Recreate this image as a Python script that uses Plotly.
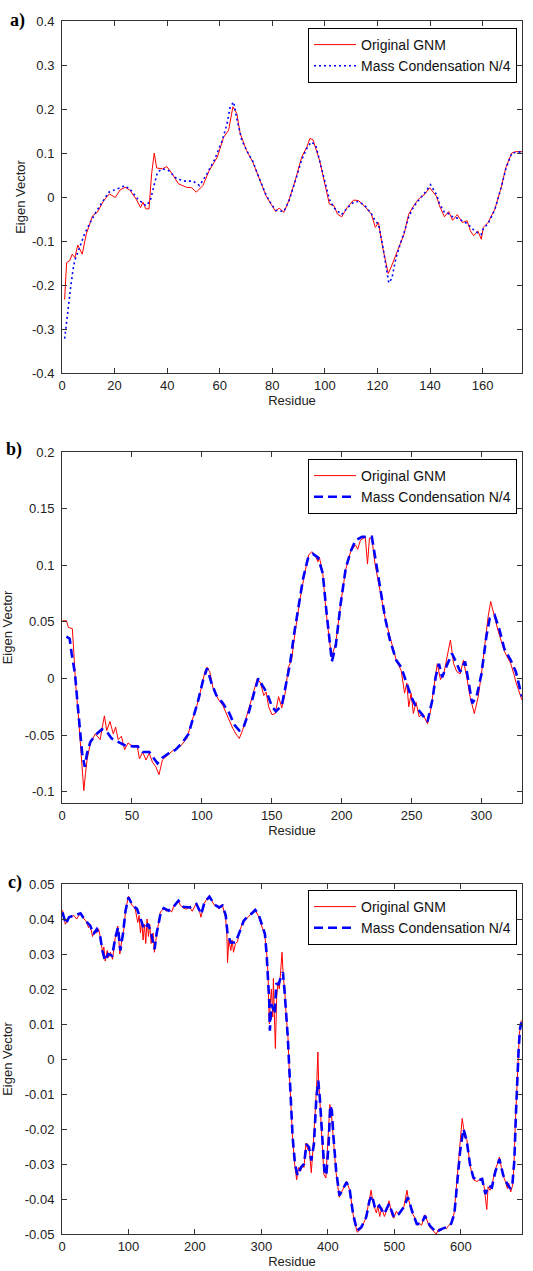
import plotly.graph_objects as go

# ---------------- Panel a ----------------
a_res_gnm = [1, 1.75, 2.9, 3.9, 4.9, 6.0, 7.7, 9.2, 11.6, 13.4, 15.9, 18.0, 20.3, 22.1, 24.0,
             25.8, 28.2, 29.9, 30.8, 31.9, 33.1, 34.1, 35.1, 36.0, 38.2, 39.9, 41.9, 44.3, 47.4,
             49.3, 51.1, 53.6, 56.0, 59.1, 61.5, 63.4, 65.0, 66.5, 67.8, 70.2, 72.6, 75.2, 77.6,
             79.5, 81.3, 82.6, 84.4, 86.3, 88.7, 91.2, 93.1, 94.3, 95.5, 98.0, 99.8, 101.7, 103.5,
             104.8, 106.4, 108.5, 110.9, 112.8, 115.3, 117.7, 119.2, 120.4, 122.0, 124.1, 125.1,
             127.0, 128.5, 130.1, 131.9, 133.8, 135.6, 138.1, 139.9, 142.5, 143.6, 145.5, 147.1,
             148.6, 150.4, 152.3, 154.1, 155.4, 156.6, 158.2, 159.5, 160.3, 162.1, 164.7, 167.1,
             168.9, 171.1, 172.5, 175]
a_vec_gnm = [-0.233, -0.149, -0.145, -0.130, -0.138, -0.109, -0.130, -0.085, -0.043, -0.035,
             -0.008, 0.007, -0.001, 0.016, 0.022, 0.016, -0.005, -0.024, -0.012, -0.027, -0.027,
             0.053, 0.100, 0.066, 0.064, 0.069, 0.053, 0.030, 0.022, 0.021, 0.011, 0.026, 0.060,
             0.091, 0.136, 0.152, 0.205, 0.190, 0.144, 0.106, 0.079, 0.037, 0.003, -0.016, -0.033,
             -0.025, -0.035, -0.008, 0.037, 0.091, 0.113, 0.133, 0.130, 0.083, 0.037, -0.016,
             -0.020, -0.039, -0.045, -0.024, -0.007, -0.008, -0.022, -0.039, -0.069, -0.058,
             -0.115, -0.174, -0.161, -0.130, -0.109, -0.085, -0.039, -0.020, -0.005, 0.007, 0.021,
             0.001, -0.020, -0.045, -0.033, -0.053, -0.040, -0.058, -0.054, -0.077, -0.088, -0.077,
             -0.096, -0.069, -0.058, -0.027, 0.022, 0.068, 0.100, 0.103, 0.103]

a_res_mc = [1, 1.5, 2.4, 3.3, 4.2, 4.8, 6.7, 8.5, 10.4, 12.8, 15.3, 17.8, 20.9, 24.0, 26.4, 28.9,
            32.0, 33.6, 35.0, 36.3, 38.1, 40.6, 43.7, 46.8, 49.9, 52.3, 54.8, 57.9, 61.0, 62.8,
            64.0, 65.3, 66.5, 68.4, 70.2, 72.6, 75.2, 77.6, 79.5, 81.3, 84.4, 86.3, 88.7, 91.2,
            93.1, 94.8, 96.5, 98.0, 99.8, 101.7, 103.5, 106.4, 108.5, 110.9, 112.8, 115.3, 117.7,
            119.2, 120.4, 122.0, 124.3, 125.5, 127.0, 128.5, 130.1, 131.9, 133.8, 135.6, 138.1,
            140.2, 142.5, 143.6, 145.5, 147.1, 148.6, 150.4, 152.3, 154.1, 156.6, 158.2, 159.5,
            160.3, 162.1, 164.7, 167.1, 168.9, 171.1, 175]
a_vec_mc = [-0.322, -0.295, -0.250, -0.205, -0.165, -0.145, -0.115, -0.085, -0.062, -0.035,
            -0.012, 0.011, 0.018, 0.026, 0.014, -0.005, -0.020, -0.008, 0.026, 0.056, 0.064,
            0.060, 0.041, 0.036, 0.036, 0.026, 0.049, 0.083, 0.129, 0.167, 0.205, 0.216, 0.178,
            0.129, 0.106, 0.081, 0.040, 0.005, -0.015, -0.030, -0.033, -0.010, 0.035, 0.085,
            0.110, 0.125, 0.118, 0.085, 0.040, -0.005, -0.025, -0.040, -0.025, -0.012, -0.010,
            -0.020, -0.038, -0.055, -0.062, -0.110, -0.195, -0.185, -0.140, -0.110, -0.082,
            -0.045, -0.022, -0.008, 0.010, 0.028, 0.005, -0.015, -0.035, -0.038, -0.045, -0.048,
            -0.055, -0.060, -0.075, -0.082, -0.085, -0.072, -0.060, -0.028, 0.022, 0.065, 0.100,
            0.103]

# ---------------- Panel b ----------------
b_res_gnm = [0.4, 3.2, 4.6, 7.4, 8.5, 9.7, 11.6, 13.2, 14.4, 15.6, 16.8, 17.9, 20.3, 23.8, 27.3,
             29.0, 30.3, 32.0, 34.3, 36.7, 38.3, 40.2, 42.5, 44.8, 47.2, 50.7, 53.7, 55.4, 57.7,
             60.1, 62.4, 64.7, 67.1, 69.4, 71.8, 75.3, 80.0, 84.6, 89.3, 92.8, 96.3, 99.9, 102.2,
             103.8, 105.7, 108.1, 111.6, 115.1, 117.4, 119.8, 122.1, 124.4, 126.8, 129.1, 132.6,
             136.1, 139.7, 142.0, 144.3, 146.0, 147.8, 150.2, 152.5, 154.9, 157.2, 159.6, 161.9,
             164.2, 166.6, 170.1, 173.6, 176.4, 178.7, 181.1, 183.0, 184.1, 186.5, 188.8, 191.2,
             192.8, 195.8, 199.3, 202.9, 206.4, 209.9, 211.5, 213.4, 216.9, 218.5, 219.9, 221.6,
             223.9, 227.4, 231.0, 234.5, 239.1, 242.6, 245.0, 246.6, 248.0, 249.7, 251.3, 253.2,
             255.5, 257.9, 261.4, 263.7, 266.1, 268.4, 270.7, 273.1, 275.4, 277.8, 280.1, 282.4,
             284.8, 287.1, 289.5, 291.8, 294.9, 297.7, 300.0, 302.3, 304.7, 306.6, 308.2, 311.7,
             316.4, 321.0, 323.4, 324.6, 328.9]
b_vec_gnm = [0.051, 0.051, 0.045, 0.044, 0.022, -0.004, -0.031, -0.060, -0.072, -0.099, -0.084,
             -0.072, -0.057, -0.049, -0.054, -0.040, -0.033, -0.046, -0.038, -0.049, -0.043,
             -0.054, -0.051, -0.063, -0.057, -0.060, -0.059, -0.071, -0.065, -0.072, -0.066,
             -0.074, -0.078, -0.085, -0.072, -0.068, -0.063, -0.060, -0.053, -0.038, -0.025,
             -0.007, 0.006, 0.010, 0.006, -0.009, -0.018, -0.024, -0.031, -0.037, -0.044, -0.049,
             -0.053, -0.046, -0.032, -0.016, 0.000, -0.004, -0.015, -0.012, -0.025, -0.032,
             -0.031, -0.016, -0.026, -0.013, 0.010, 0.016, 0.040, 0.069, 0.093, 0.109, 0.112,
             0.109, 0.103, 0.107, 0.093, 0.060, 0.034, 0.019, 0.031, 0.066, 0.096, 0.112, 0.118,
             0.114, 0.122, 0.125, 0.101, 0.124, 0.124, 0.101, 0.078, 0.054, 0.037, 0.016, 0.007,
             -0.013, -0.004, -0.025, -0.013, -0.031, -0.021, -0.034, -0.031, -0.040, -0.028,
             -0.007, 0.013, -0.001, 0.004, 0.019, 0.034, 0.013, 0.006, 0.004, 0.016, 0.001,
             -0.016, -0.031, -0.016, 0.004, 0.028, 0.054, 0.068, 0.060, 0.043, 0.024, 0.013,
             0.003, -0.003, -0.019]

b_res_mc = [3.2, 5.5, 6.9, 9.3, 10.9, 12.5, 14.4, 16.3, 17.9, 20.3, 23.8, 28.5, 32.0, 35.5, 40.2,
            44.8, 50.7, 54.2, 57.7, 62.4, 65.9, 68.3, 71.8, 76.5, 81.2, 85.8, 90.5, 94.0, 97.5,
            101.0, 103.8, 106.9, 110.4, 115.1, 119.8, 123.3, 126.8, 129.6, 133.8, 137.3, 140.4,
            143.2, 146.7, 150.2, 153.0, 157.2, 159.6, 163.1, 166.1, 168.9, 172.4, 175.9, 179.4,
            183.0, 186.5, 188.8, 191.2, 193.0, 195.8, 199.3, 202.9, 206.4, 209.9, 214.6, 221.6,
            223.9, 227.4, 231.0, 234.5, 239.1, 242.6, 246.2, 249.7, 253.2, 256.7, 261.4, 264.9,
            267.2, 269.6, 271.9, 275.4, 278.9, 282.4, 284.8, 288.3, 290.6, 293.4, 296.5, 300.0,
            303.5, 305.9, 309.4, 312.9, 316.4, 321.0, 324.6, 328.9]
b_vec_mc = [0.037, 0.035, 0.022, 0.004, -0.019, -0.043, -0.066, -0.078, -0.066, -0.056, -0.050,
            -0.045, -0.047, -0.053, -0.056, -0.059, -0.060, -0.060, -0.065, -0.065, -0.071,
            -0.075, -0.070, -0.066, -0.063, -0.057, -0.049, -0.035, -0.019, -0.001, 0.009,
            -0.004, -0.015, -0.022, -0.031, -0.041, -0.046, -0.044, -0.029, -0.013, 0.000,
            -0.006, -0.013, -0.025, -0.029, -0.024, -0.010, 0.013, 0.040, 0.063, 0.088, 0.106,
            0.110, 0.107, 0.093, 0.063, 0.034, 0.015, 0.029, 0.066, 0.097, 0.112, 0.122, 0.125,
            0.125, 0.107, 0.081, 0.054, 0.034, 0.016, 0.010, -0.004, -0.016, -0.025, -0.031,
            -0.038, -0.019, 0.001, 0.013, 0.001, 0.012, 0.022, 0.013, 0.006, 0.015, -0.001,
            -0.022, -0.016, 0.004, 0.037, 0.053, 0.056, 0.043, 0.026, 0.016, 0.006, -0.016]

# ---------------- Panel c ----------------
c_res_gnm = [0.8, 5, 8, 11, 18, 22, 28, 33, 36, 40, 42, 46, 48, 52, 55, 58, 61, 63, 65, 68, 70,
             73, 76, 80, 84, 87, 90, 93, 96, 100, 105, 110, 114, 116, 118, 120, 122, 124, 126,
             128, 130, 132, 134, 137, 139, 142, 148, 153, 157, 160, 165, 168, 175, 178, 182, 187,
             192, 196, 202, 206, 209, 214, 221, 226, 229, 233, 236, 241, 246, 248, 249, 251, 254,
             256, 258, 261, 264, 267, 273, 280, 285, 290, 295, 300, 305, 308, 310, 311, 312, 313,
             315, 317, 318, 320, 321, 323, 325, 327, 329, 331, 333, 335, 337, 340, 342, 344.6,
             347, 350, 353, 356, 359, 362, 364, 367, 370, 372, 375, 378, 381, 383, 385, 386, 388,
             391, 394, 397, 400, 403, 405, 408, 412, 417, 422, 428, 433, 438, 444, 450, 457, 462,
             465, 467, 469, 471, 473, 475, 478, 481, 485, 489, 492, 496, 499, 503, 507, 511, 514,
             517, 519, 521, 524, 527, 531, 534, 538, 541, 546, 550, 553, 558, 563, 567, 571, 575,
             578, 582, 585, 590, 594, 599, 602, 604, 606, 609, 614, 619, 624, 628, 632, 635, 637,
             639, 641, 644, 647, 651, 655, 658, 661, 664, 667, 670, 672, 675, 678, 680, 682, 684,
             686, 688, 690, 691]
c_vec_gnm = [0.0425, 0.0385, 0.0395, 0.0405, 0.0410, 0.0400, 0.0418, 0.0400, 0.0395, 0.0375,
             0.0385, 0.0350, 0.0365, 0.0360, 0.0372, 0.0345, 0.0305, 0.0320, 0.0280, 0.0310,
             0.0290, 0.0305, 0.0285, 0.0345, 0.0380, 0.0300, 0.0340, 0.0370, 0.0430, 0.0465,
             0.0440, 0.0430, 0.0390, 0.0410, 0.0360, 0.0395, 0.0340, 0.0385, 0.0330, 0.0400,
             0.0350, 0.0385, 0.0330, 0.0360, 0.0305, 0.0350, 0.0420, 0.0430, 0.0422, 0.0428,
             0.0420, 0.0436, 0.0452, 0.0440, 0.0432, 0.0428, 0.0434, 0.0422, 0.0445, 0.0430,
             0.0405, 0.0445, 0.0466, 0.0450, 0.0440, 0.0435, 0.0430, 0.0442, 0.0405, 0.0360,
             0.0275, 0.0340, 0.0310, 0.0340, 0.0305, 0.0330, 0.0335, 0.0365, 0.0395, 0.0405,
             0.0418, 0.0428, 0.0410, 0.0385, 0.0355, 0.0300, 0.0240, 0.0160, 0.0100, 0.0150,
             0.0200, 0.0120, 0.0230, 0.0090, 0.0030, 0.0180, 0.0220, 0.0200, 0.0260, 0.0305,
             0.0230, 0.0200, 0.0130, 0.0060, -0.0040, -0.0150, -0.0230, -0.0300, -0.0345,
             -0.0310, -0.0320, -0.0300, -0.0310, -0.0240, -0.0260, -0.0255, -0.0325, -0.0245,
             -0.0150, -0.0080, 0.0020, -0.0060, -0.0120, -0.0210, -0.0330, -0.0340, -0.0250,
             -0.0130, -0.0150, -0.0230, -0.0320, -0.0395, -0.0375, -0.0350, -0.0375, -0.0445,
             -0.0495, -0.0485, -0.0455, -0.0400, -0.0375, -0.0400, -0.0420, -0.0430, -0.0440,
             -0.0420, -0.0450, -0.0425, -0.0450, -0.0430, -0.0405, -0.0445, -0.0455, -0.0435,
             -0.0445, -0.0430, -0.0425, -0.0400, -0.0375, -0.0400, -0.0420, -0.0440, -0.0455,
             -0.0475, -0.0470, -0.0475, -0.0445, -0.0465, -0.0480, -0.0490, -0.0500, -0.0485,
             -0.0490, -0.0480, -0.0485, -0.0475, -0.0470, -0.0440, -0.0355, -0.0255, -0.0170,
             -0.0195, -0.0225, -0.0230, -0.0305, -0.0345, -0.0350, -0.0345, -0.0340, -0.0365,
             -0.0395, -0.0430, -0.0365, -0.0375, -0.0360, -0.0320, -0.0300, -0.0280, -0.0310,
             -0.0335, -0.0350, -0.0370, -0.0355, -0.0380, -0.0360, -0.0300, -0.0180, -0.0080,
             0.0000, 0.0070, 0.0100, 0.0110]

c_res_mc = [0.8, 5.7, 10.6, 18.0, 27.8, 35.2, 42.5, 47.4, 52.4, 57.3, 60.7, 64.7, 69.5, 75.4,
            80.4, 84.3, 87.7, 91.7, 95.6, 100.0, 106.4, 112.8, 118.7, 123.6, 129.5, 134.4, 139.3,
            142.2, 148.1, 153.0, 160.4, 167.8, 175.1, 182.5, 192.3, 202.2, 209.5, 214.4, 221.8,
            229.2, 236.5, 241.5, 246.4, 248.8, 253.7, 261.1, 267.0, 273.4, 280.7, 285.6, 290.6,
            295.5, 300.4, 305.3, 307.8, 310.2, 311.7, 312.7, 315.1, 317.6, 320.0, 322.5, 325.9,
            329.9, 332.3, 334.8, 337.2, 339.7, 342.1, 344.6, 347.0, 350.5, 354.4, 359.3, 364.2,
            367.7, 371.6, 375.0, 379.0, 382.4, 385.4, 387.8, 391.3, 394.7, 397.6, 401.1, 403.5,
            406.0, 408.4, 412.4, 417.3, 422.2, 428.1, 433.0, 437.9, 443.8, 450.2, 457.6, 462.5,
            466.4, 471.3, 477.2, 484.6, 492.0, 499.3, 506.7, 514.0, 520.4, 526.3, 533.7, 541.0,
            546.0, 553.3, 563.1, 570.5, 577.9, 585.3, 590.2, 594.1, 599.0, 603.9, 608.8, 613.7,
            618.7, 624.6, 632.0, 636.9, 641.8, 646.7, 651.6, 658.0, 663.9, 669.8, 674.7, 677.6,
            680.5, 683.0, 685.0, 687.0, 689.0, 691.0]
c_vec_mc = [0.0419, 0.0386, 0.0405, 0.0410, 0.0416, 0.0395, 0.0381, 0.0357, 0.0371, 0.0352,
            0.0310, 0.0281, 0.0300, 0.0295, 0.0348, 0.0376, 0.0310, 0.0357, 0.0424, 0.0462,
            0.0438, 0.0429, 0.0395, 0.0371, 0.0386, 0.0357, 0.0314, 0.0357, 0.0414, 0.0431,
            0.0424, 0.0435, 0.0452, 0.0435, 0.0433, 0.0443, 0.0414, 0.0448, 0.0464, 0.0441,
            0.0433, 0.0438, 0.0410, 0.0362, 0.0333, 0.0333, 0.0362, 0.0395, 0.0410, 0.0416,
            0.0426, 0.0414, 0.0386, 0.0357, 0.0300, 0.0233, 0.0167, 0.0081, 0.0157, 0.0143,
            0.0129, 0.0214, 0.0214, 0.0238, 0.0248, 0.0195, 0.0138, 0.0062, -0.0033, -0.0148,
            -0.0224, -0.0300, -0.0333, -0.0310, -0.0300, -0.0243, -0.0252, -0.0290, -0.0243,
            -0.0119, -0.0062, -0.0110, -0.0214, -0.0319, -0.0333, -0.0243, -0.0133, -0.0148,
            -0.0224, -0.0319, -0.0390, -0.0371, -0.0352, -0.0376, -0.0443, -0.0490, -0.0481,
            -0.0452, -0.0405, -0.0390, -0.0429, -0.0419, -0.0443, -0.0414, -0.0452, -0.0443,
            -0.0424, -0.0395, -0.0433, -0.0471, -0.0471, -0.0448, -0.0476, -0.0495, -0.0486,
            -0.0481, -0.0471, -0.0443, -0.0357, -0.0262, -0.0200, -0.0233, -0.0300, -0.0338,
            -0.0348, -0.0343, -0.0386, -0.0362, -0.0367, -0.0324, -0.0286, -0.0333, -0.0357,
            -0.0371, -0.0357, -0.0290, -0.0150, -0.0050, 0.0030, 0.0085, 0.0105]

# ---------------- Tick labels ----------------
a_xticks = [0, 20, 40, 60, 80, 100, 120, 140, 160]
a_yticks = [-0.4, -0.3, -0.2, -0.1, 0, 0.1, 0.2, 0.3, 0.4]
a_ylabels = ["-0.4", "-0.3", "-0.2", "-0.1", "0", "0.1", "0.2", "0.3", "0.4"]
b_xticks = [0, 50, 100, 150, 200, 250, 300]
b_yticks = [-0.1, -0.05, 0, 0.05, 0.1, 0.15, 0.2]
b_ylabels = ["-0.1", "-0.05", "0", "0.05", "0.1", "0.15", "0.2"]
c_xticks = [0, 100, 200, 300, 400, 500, 600]
c_yticks = [-0.05, -0.04, -0.03, -0.02, -0.01, 0, 0.01, 0.02, 0.03, 0.04, 0.05]
c_ylabels = ["-0.05", "-0.04", "-0.03", "-0.02", "-0.01", "0", "0.01", "0.02", "0.03",
             "0.04", "0.05"]

series_names = ["Original GNM", "Mass Condensation N/4"]
panel_labels = ["a)", "b)", "c)"]

H = 1271
RED = "#ff0000"
BLUE = "#0000ff"
FONT = "Liberation Sans, Arial, sans-serif"

fig = go.Figure()

# panel a
fig.add_trace(go.Scatter(x=a_res_gnm, y=a_vec_gnm, mode="lines", name=series_names[0],
                         line=dict(color=RED, width=1), xaxis="x", yaxis="y", legend="legend"))
fig.add_trace(go.Scatter(x=a_res_mc, y=a_vec_mc, mode="lines", name=series_names[1],
                         line=dict(color=BLUE, width=1.6, dash="2px,3px"), xaxis="x", yaxis="y",
                         legend="legend"))
# panel b
fig.add_trace(go.Scatter(x=b_res_gnm, y=b_vec_gnm, mode="lines", name=series_names[0],
                         line=dict(color=RED, width=1), xaxis="x2", yaxis="y2", legend="legend2"))
fig.add_trace(go.Scatter(x=b_res_mc, y=b_vec_mc, mode="lines", name=series_names[1],
                         line=dict(color=BLUE, width=2.6, dash="9px,5px"), xaxis="x2", yaxis="y2",
                         legend="legend2"))
# panel c
fig.add_trace(go.Scatter(x=c_res_gnm, y=c_vec_gnm, mode="lines", name=series_names[0],
                         line=dict(color=RED, width=1), xaxis="x3", yaxis="y3", legend="legend3"))
fig.add_trace(go.Scatter(x=c_res_mc, y=c_vec_mc, mode="lines", name=series_names[1],
                         line=dict(color=BLUE, width=2.6, dash="9px,5px"), xaxis="x3", yaxis="y3",
                         legend="legend3"))


def dom(top_px, bottom_px):
    return [1 - bottom_px / H, 1 - top_px / H]


axis_common = dict(showline=True, linecolor="#333333", linewidth=1, mirror="ticks",
                   ticks="inside", ticklen=5, tickcolor="#333333", showgrid=False,
                   zeroline=False, automargin=False,
                   tickfont=dict(family=FONT, size=13, color="#222222"))

def xaxis(rng, ticks, anchor):
    return dict(axis_common, range=rng, tickvals=ticks, ticktext=[str(t) for t in ticks],
                anchor=anchor, domain=[0, 1],
                title=dict(text="Residue", font=dict(family=FONT, size=13, color="#222222"),
                           standoff=3))

def yaxis(rng, ticks, labels, d, anchor, standoff):
    return dict(axis_common, range=rng, tickvals=ticks, ticktext=labels, anchor=anchor, domain=d,
                ticklabelstandoff=4,
                title=dict(text="Eigen Vector", font=dict(family=FONT, size=13, color="#222222"),
                           standoff=standoff))

legend_common = dict(bgcolor="white", bordercolor="black", borderwidth=1,
                     font=dict(family=FONT, size=14, color="#111111"), xanchor="right",
                     yanchor="top", x=(517 - 62) / 460, itemwidth=42, tracegroupgap=0)

fig.update_layout(
    width=533, height=H,
    margin=dict(l=62, r=11, t=0, b=0),
    paper_bgcolor="white", plot_bgcolor="white",
    showlegend=True,
    xaxis=xaxis([0, 175], a_xticks, "y"),
    yaxis=yaxis([-0.4, 0.4], a_yticks, a_ylabels, dom(21, 373), "x", 3),
    xaxis2=xaxis([0, 329], b_xticks, "y2"),
    yaxis2=yaxis([-0.11, 0.2], b_yticks, b_ylabels, dom(452, 803), "x2", 11),
    xaxis3=xaxis([0, 692], c_xticks, "y3"),
    yaxis3=yaxis([-0.05, 0.05], c_yticks, c_ylabels, dom(884, 1234), "x3", 11),
    legend=dict(legend_common, y=1 - 28 / H),
    legend2=dict(legend_common, y=1 - 459 / H),
    legend3=dict(legend_common, y=1 - 890 / H),
)

label_y = [21, 449, 882]
label_x = [17, 14, 15]
for lab, px, py in zip(panel_labels, label_x, label_y):
    fig.add_annotation(text="<b>" + lab + "</b>", xref="paper", yref="paper",
                       x=(px - 62) / 460, y=1 - py / H, xanchor="center", yanchor="middle",
                       showarrow=False,
                       font=dict(family="Liberation Serif, Times New Roman, serif", size=18,
                                 color="black"))

fig.write_html("out.html", post_script="document.body.style.margin='0px';",
               config={"displayModeBar": False})
